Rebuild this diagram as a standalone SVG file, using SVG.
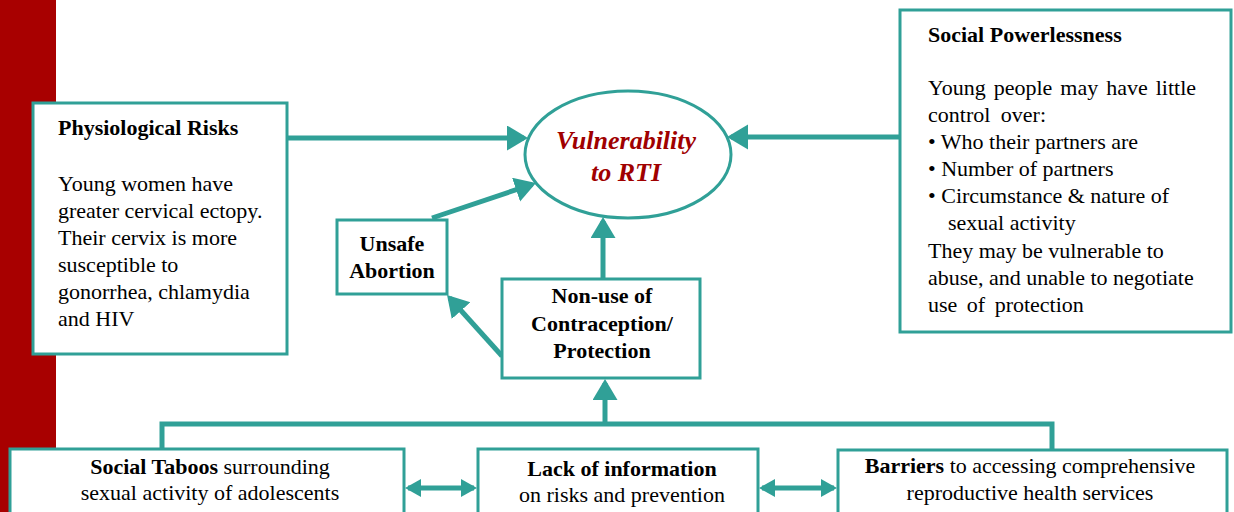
<svg xmlns="http://www.w3.org/2000/svg" width="1234" height="512" viewBox="0 0 1234 512">
<style>
.box{fill:#fff;stroke:#30a097;stroke-width:3}
.ln{fill:none;stroke:#30a097;stroke-width:5}
.t{font-family:"Liberation Serif","Times New Roman",serif;font-size:22px;fill:#000}
.b{font-weight:bold}
.c{text-anchor:middle}
.v{font-family:"Liberation Serif","Times New Roman",serif;font-size:26px;font-weight:bold;font-style:italic;fill:#a00000;text-anchor:middle}
</style>
<defs>
<marker id="ah" markerUnits="userSpaceOnUse" markerWidth="22" markerHeight="26" refX="17" refY="12.5" orient="auto">
<path d="M0,0 L21,12.5 L0,25 z" fill="#30a097"/>
</marker>
<marker id="as" markerUnits="userSpaceOnUse" markerWidth="18" markerHeight="20" refX="13" refY="9" orient="auto-start-reverse">
<path d="M0,0 L16,9 L0,18 z" fill="#30a097"/>
</marker>
</defs>
<rect x="0" y="0" width="56" height="512" fill="#a80000"/>
<g id="connectors">
<line class="ln" x1="288" y1="138" x2="524" y2="138" marker-end="url(#ah)"/>
<line class="ln" x1="899" y1="137" x2="731" y2="137" marker-end="url(#ah)"/>
<line class="ln" x1="432" y1="218" x2="532.2" y2="184.3" marker-end="url(#ah)"/>
<line class="ln" x1="603" y1="279" x2="603" y2="221" marker-end="url(#ah)"/>
<line class="ln" x1="502" y1="356" x2="449.7" y2="298" marker-end="url(#ah)"/>
<path class="ln" d="M162,449 V424 H1052 V449"/>
<line class="ln" x1="605" y1="424" x2="605" y2="383" marker-end="url(#ah)"/>
<line class="ln" x1="408" y1="488" x2="474" y2="488" marker-start="url(#as)" marker-end="url(#as)"/>
<line class="ln" x1="762" y1="488" x2="834" y2="488" marker-start="url(#as)" marker-end="url(#as)"/>
</g>
<g id="physio">
<rect class="box" x="33" y="103" width="254" height="251"/>
<text class="t b" x="58" y="135">Physiological Risks</text>
<text class="t" x="58" y="191">Young women have</text>
<text class="t" x="58" y="218">greater cervical ectopy.</text>
<text class="t" x="58" y="245">Their cervix is more</text>
<text class="t" x="58" y="272">susceptible to</text>
<text class="t" x="58" y="299">gonorrhea, chlamydia</text>
<text class="t" x="58" y="326">and HIV</text>
</g>
<g id="vulnerability">
<ellipse cx="628" cy="154.5" rx="103" ry="63.5" fill="#fff" stroke="#30a097" stroke-width="3"/>
<text class="v" x="626" y="149">Vulnerability</text>
<text class="v" x="626" y="181">to RTI</text>
</g>
<g id="powerlessness">
<rect class="box" x="900" y="10" width="331" height="322"/>
<text class="t b" x="928" y="42">Social Powerlessness</text>
<text class="t" x="928" y="95" word-spacing="2.5">Young people may have little</text>
<text class="t" x="928" y="122" word-spacing="5">control over:</text>
<text class="t" x="928" y="149">• Who their partners are</text>
<text class="t" x="928" y="176">• Number of partners</text>
<text class="t" x="928" y="203">• Circumstance &amp; nature of</text>
<text class="t" x="948" y="230">sexual activity</text>
<text class="t" x="928" y="258">They may be vulnerable to</text>
<text class="t" x="928" y="285">abuse, and unable to negotiate</text>
<text class="t" x="928" y="312" word-spacing="4">use of protection</text>
</g>
<g id="unsafe">
<rect class="box" x="337" y="220" width="110" height="74"/>
<text class="t b c" x="392" y="251">Unsafe</text>
<text class="t b c" x="392" y="278">Abortion</text>
</g>
<g id="nonuse">
<rect class="box" x="502" y="279" width="198" height="99"/>
<text class="t b c" x="602" y="303">Non-use of</text>
<text class="t b c" x="602" y="331">Contraception/</text>
<text class="t b c" x="602" y="358">Protection</text>
</g>
<g id="taboos">
<rect class="box" x="10" y="449" width="394" height="70"/>
<text class="t c" x="210" y="474"><tspan class="b">Social Taboos</tspan> surrounding</text>
<text class="t c" x="210" y="500">sexual activity of adolescents</text>
</g>
<g id="lackinfo">
<rect class="box" x="478" y="449" width="280" height="70"/>
<text class="t b c" x="622" y="476">Lack of information</text>
<text class="t c" x="622" y="502">on risks and prevention</text>
</g>
<g id="barriers">
<rect class="box" x="838" y="450" width="389" height="70"/>
<text class="t c" x="1030" y="473"><tspan class="b">Barriers</tspan> to accessing comprehensive</text>
<text class="t c" x="1030" y="500">reproductive health services</text>
</g>
</svg>
